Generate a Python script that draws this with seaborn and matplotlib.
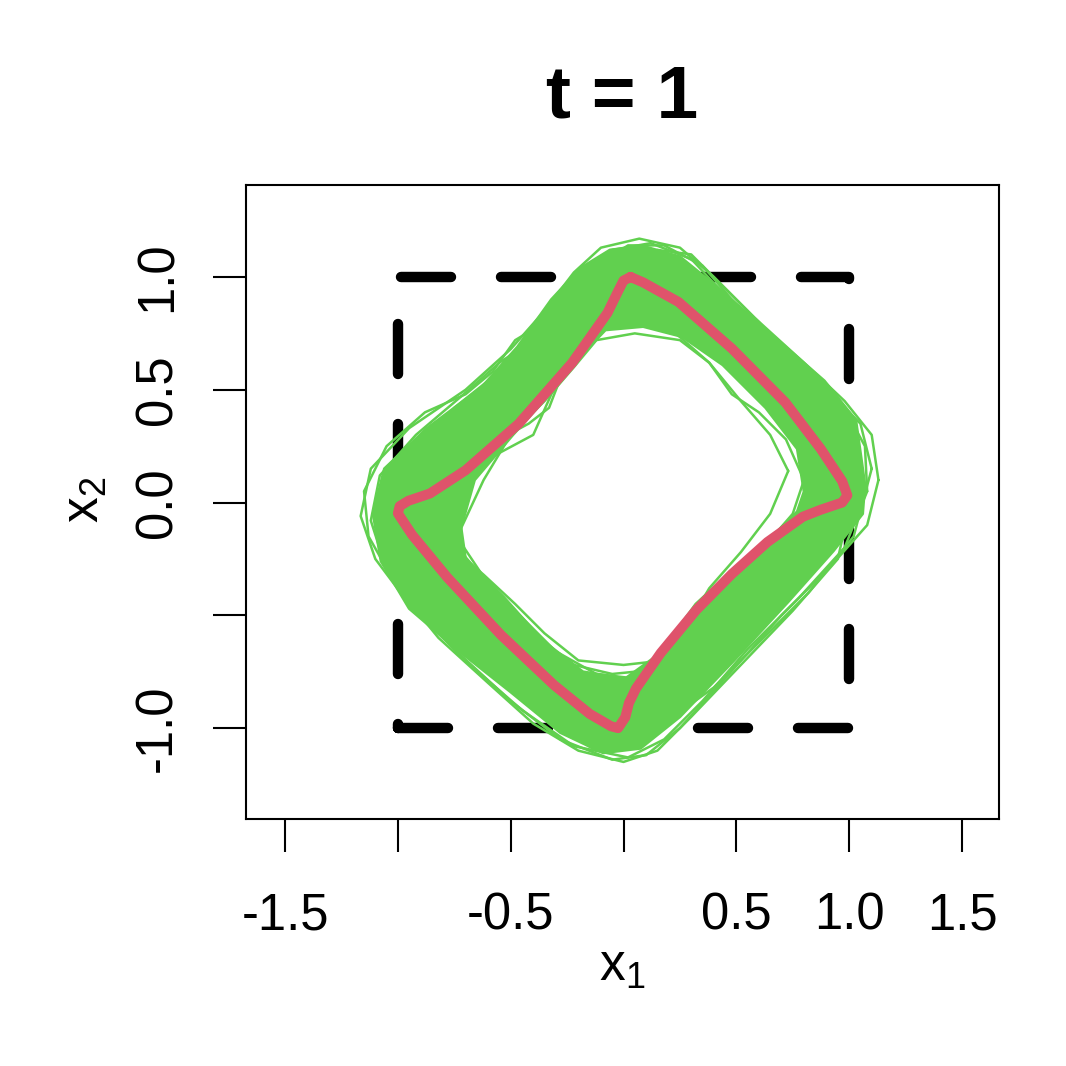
import numpy as np
import matplotlib
matplotlib.use("Agg")
import matplotlib.pyplot as plt
import seaborn as sns
from matplotlib.path import Path
from matplotlib.patches import PathPatch

# red reference curve (x, y)
red_x = [0.031, 0.087, 0.244, 0.48, 0.717, 0.874, 0.969, 0.992, 0.969, 0.874, 0.795, 0.638,
         0.48, 0.323, 0.165, 0.055, 0.024, 0.008, -0.024, -0.055, -0.15, -0.307, -0.543,
         -0.78, -0.937, -1.0, -0.992, -0.953, -0.858, -0.7, -0.465, -0.228, -0.071, -0.024,
         0.0, 0.031]
red_y = [1.0, 0.976, 0.889, 0.683, 0.444, 0.238, 0.095, 0.032, 0.0, -0.032, -0.063, -0.175,
         -0.317, -0.476, -0.667, -0.825, -0.889, -0.952, -1.0, -0.992, -0.937, -0.81, -0.587,
         -0.333, -0.143, -0.048, -0.016, 0.008, 0.04, 0.143, 0.349, 0.619, 0.841, 0.937,
         0.984, 1.0]

# dense green band: outer and inner edge
band_outer = [(1.07, 0.08), (1.03, 0.365), (0.89, 0.54), (0.65, 0.75), (0.41, 0.96),
              (0.25, 1.09), (0.087, 1.137), (-0.06, 1.12), (-0.19, 1.04), (-0.32, 0.90),
              (-0.47, 0.69), (-0.63, 0.51), (-0.87, 0.33), (-1.06, 0.15), (-1.11, -0.05),
              (-1.075, -0.26), (-0.95, -0.47), (-0.74, -0.65), (-0.50, -0.84), (-0.28, -1.02),
              (-0.09, -1.11), (0.075, -1.09), (0.25, -0.95), (0.49, -0.70), (0.73, -0.44),
              (0.93, -0.215), (1.06, -0.05)]
band_inner = [(0.80, 0.048), (0.77, 0.238), (0.63, 0.42), (0.44, 0.61), (0.26, 0.735),
              (0.087, 0.78), (-0.08, 0.765), (-0.17, 0.67), (-0.30, 0.51), (-0.49, 0.30),
              (-0.66, 0.10), (-0.72, -0.11), (-0.70, -0.25), (-0.53, -0.42), (-0.36, -0.61),
              (-0.18, -0.75), (0.008, -0.78), (0.16, -0.67), (0.32, -0.45), (0.51, -0.275),
              (0.68, -0.13), (0.77, -0.04)]

# individual green sample curves
curve_a = [(1.13, 0.10), (1.10, 0.30), (0.98, 0.45), (0.80, 0.62), (0.58, 0.82), (0.40, 1.00),
           (0.25, 1.13), (0.07, 1.17), (-0.10, 1.13), (-0.22, 1.02), (-0.35, 0.85), (-0.50, 0.68),
           (-0.70, 0.50), (-0.95, 0.33), (-1.12, 0.15), (-1.165, -0.06), (-1.10, -0.25),
           (-0.95, -0.45), (-0.75, -0.65), (-0.50, -0.88), (-0.28, -1.05), (-0.05, -1.14),
           (0.10, -1.12), (0.25, -1.00), (0.45, -0.78), (0.70, -0.50), (0.92, -0.28),
           (1.08, -0.10), (1.13, 0.10)]
curve_b = [(1.08, 0.05), (1.07, 0.25), (1.00, 0.38), (0.85, 0.52), (0.65, 0.72), (0.45, 0.92),
           (0.30, 1.08), (0.12, 1.15), (-0.05, 1.12), (-0.18, 1.00), (-0.30, 0.85), (-0.40, 0.72),
           (-0.55, 0.62), (-0.72, 0.47), (-0.92, 0.30), (-1.08, 0.12), (-1.12, -0.08),
           (-1.05, -0.30), (-0.88, -0.52), (-0.68, -0.72), (-0.45, -0.92), (-0.22, -1.08),
           (0.02, -1.13), (0.18, -1.05), (0.35, -0.88), (0.55, -0.65), (0.78, -0.42),
           (0.98, -0.20), (1.08, 0.05)]
curve_c = [(0.73, 0.14), (0.65, 0.30), (0.52, 0.45), (0.38, 0.62), (0.25, 0.72), (0.05, 0.75),
           (-0.12, 0.72), (-0.22, 0.60), (-0.35, 0.45), (-0.50, 0.30), (-0.62, 0.10),
           (-0.76, -0.20), (-0.62, -0.32), (-0.48, -0.45), (-0.35, -0.58), (-0.20, -0.70),
           (0.00, -0.72), (0.18, -0.70), (0.28, -0.55), (0.38, -0.38), (0.52, -0.22),
           (0.65, -0.05), (0.73, 0.14)]
curve_d = [(0.80, 0.10), (0.72, 0.28), (0.60, 0.40), (0.48, 0.48), (0.38, 0.62), (0.22, 0.76),
           (0.05, 0.80), (-0.10, 0.78), (-0.18, 0.68), (-0.30, 0.55), (-0.42, 0.42), (-0.55, 0.32),
           (-0.68, 0.20), (-0.75, 0.00), (-0.78, -0.15), (-0.65, -0.30), (-0.52, -0.45),
           (-0.38, -0.60), (-0.22, -0.72), (-0.05, -0.76), (0.15, -0.74), (0.25, -0.62),
           (0.35, -0.45), (0.50, -0.30), (0.62, -0.20), (0.75, -0.05), (0.80, 0.10)]
curve_e = [(1.02, 0.02), (0.98, 0.20), (0.90, 0.32), (0.75, 0.48), (0.55, 0.68), (0.40, 0.82),
           (0.28, 0.96), (0.10, 1.05), (-0.05, 1.02), (-0.15, 0.92), (-0.28, 0.75), (-0.45, 0.55),
           (-0.60, 0.42), (-0.80, 0.28), (-0.98, 0.12), (-1.05, -0.05), (-1.00, -0.22),
           (-0.88, -0.38), (-0.78, -0.50), (-0.62, -0.62), (-0.45, -0.78), (-0.25, -0.95),
           (-0.05, -1.02), (0.08, -0.98), (0.20, -0.85), (0.32, -0.70), (0.48, -0.55),
           (0.70, -0.35), (0.90, -0.15), (1.02, 0.02)]
curve_f = [(1.10, 0.15), (1.05, 0.35), (0.92, 0.48), (0.75, 0.62), (0.60, 0.80), (0.45, 0.95),
           (0.30, 1.10), (0.15, 1.12), (0.00, 1.08), (-0.15, 0.95), (-0.25, 0.80), (-0.38, 0.68),
           (-0.55, 0.58), (-0.75, 0.42), (-0.90, 0.25), (-1.00, 0.05), (-1.05, -0.15),
           (-0.98, -0.35), (-0.85, -0.55), (-0.65, -0.70), (-0.48, -0.85), (-0.32, -0.98),
           (-0.12, -1.10), (0.05, -1.08), (0.22, -0.95), (0.40, -0.82), (0.60, -0.62),
           (0.82, -0.40), (1.02, -0.15), (1.10, 0.15)]
curve_g = [(0.85, 0.10), (0.80, 0.25), (0.70, 0.38), (0.55, 0.52), (0.45, 0.62), (0.30, 0.75),
           (0.15, 0.85), (0.00, 0.88), (-0.12, 0.82), (-0.22, 0.65), (-0.32, 0.48), (-0.40, 0.30),
           (-0.55, 0.22), (-0.70, 0.12), (-0.85, -0.05), (-0.82, -0.25), (-0.70, -0.40),
           (-0.55, -0.52), (-0.38, -0.65), (-0.20, -0.78), (0.00, -0.82), (0.15, -0.80),
           (0.25, -0.68), (0.38, -0.50), (0.55, -0.35), (0.72, -0.20), (0.85, 0.10)]
curve_h = [(1.05, 0.20), (0.98, 0.40), (0.82, 0.55), (0.62, 0.75), (0.48, 0.90), (0.35, 1.05),
           (0.18, 1.14), (0.02, 1.14), (-0.12, 1.05), (-0.25, 0.90), (-0.38, 0.78), (-0.48, 0.72),
           (-0.58, 0.58), (-0.70, 0.48), (-0.88, 0.40), (-1.05, 0.25), (-1.15, 0.05),
           (-1.13, -0.15), (-1.00, -0.38), (-0.82, -0.60), (-0.60, -0.80), (-0.40, -0.98),
           (-0.20, -1.10), (0.00, -1.15), (0.15, -1.10), (0.30, -0.95), (0.52, -0.72),
           (0.75, -0.48), (0.95, -0.25), (1.05, 0.20)]
curve_i = [(0.90, 0.05), (0.85, 0.22), (0.75, 0.35), (0.62, 0.48), (0.50, 0.60), (0.35, 0.72),
           (0.20, 0.82), (0.05, 0.84), (-0.08, 0.80), (-0.18, 0.70), (-0.28, 0.55), (-0.33, 0.42),
           (-0.42, 0.35), (-0.55, 0.28), (-0.65, 0.15), (-0.72, -0.02), (-0.72, -0.18),
           (-0.62, -0.33), (-0.48, -0.48), (-0.30, -0.66), (-0.12, -0.76), (0.05, -0.78),
           (0.20, -0.74), (0.30, -0.60), (0.40, -0.48), (0.55, -0.40), (0.68, -0.28),
           (0.82, -0.12), (0.90, 0.05)]
green_curves = [curve_a, curve_b, curve_c, curve_d, curve_e, curve_f, curve_g, curve_h, curve_i]

# dashed reference square
square_x = [-1, 1, 1, -1, -1]
square_y = [-1, -1, 1, 1, -1]

x_ticks = [-1.5, -1.0, -0.5, 0.0, 0.5, 1.0, 1.5]
x_labels = ["-1.5", "", "-0.5", "", "0.5", "1.0", "1.5"]
y_ticks = [-1.0, -0.5, 0.0, 0.5, 1.0]
y_labels = ["-1.0", "", "0.0", "0.5", "1.0"]

green = "#61D04F"
red = "#DF536B"

sns.set_style("ticks")
plt.rcParams["font.family"] = ["Liberation Sans", "DejaVu Sans"]
plt.rcParams["mathtext.fontset"] = "custom"
plt.rcParams["mathtext.rm"] = "Liberation Sans"
plt.rcParams["mathtext.it"] = "Liberation Sans"
for k in ["text.color", "axes.labelcolor", "xtick.color", "ytick.color", "axes.edgecolor"]:
    plt.rcParams[k] = "black"

fig = plt.figure(figsize=(10.66, 10.66), dpi=100)
ax = fig.add_axes([0.2308, 0.2317, 0.9371 - 0.2308, 0.8265 - 0.2317])

# dashed square
sns.lineplot(x=square_x, y=square_y, sort=False, estimator=None, color="black",
             lw=7.5, ax=ax, zorder=1)
ax.lines[-1].set_dashes((4.8, 4.8))
ax.lines[-1].set_dash_capstyle("round")

# dense band
verts = band_outer + [band_outer[0]] + band_inner[::-1] + [band_inner[-1]]
codes = ([Path.MOVETO] + [Path.LINETO] * (len(band_outer) - 1) + [Path.CLOSEPOLY]
         + [Path.MOVETO] + [Path.LINETO] * (len(band_inner) - 1) + [Path.CLOSEPOLY])
ax.add_patch(PathPatch(Path(verts, codes), facecolor=green, edgecolor=green, lw=2,
                       joinstyle="round", zorder=2))

for c in green_curves:
    cx = [p[0] for p in c]
    cy = [p[1] for p in c]
    sns.lineplot(x=cx, y=cy, sort=False, estimator=None, color=green, lw=1.8, ax=ax,
                 zorder=3, solid_joinstyle="round")

sns.lineplot(x=red_x, y=red_y, sort=False, estimator=None, color=red, lw=7.2, ax=ax, zorder=4,
             solid_joinstyle="round", solid_capstyle="round")

ax.set_xlim(-1.673, 1.664)
ax.set_ylim(-1.403, 1.408)
ax.set_xticks(x_ticks)
ax.set_xticklabels(x_labels)
ax.set_yticks(y_ticks)
ax.set_yticklabels(y_labels, rotation=90, va="center")
ax.tick_params(axis="both", direction="out", length=24, width=1.5, labelsize=36.5,
               bottom=True, left=True, top=False, right=False)
ax.tick_params(axis="x", pad=28)
ax.tick_params(axis="y", pad=22)
for s in ax.spines.values():
    s.set_visible(True)
    s.set_linewidth(1.5)

fig.text(0.584, 1 - 967 / 1066, r"$\mathrm{x}_1$", fontsize=37, ha="center", va="center")
fig.text(85 / 1066, 1 - 500 / 1066, r"$\mathrm{x}_2$", fontsize=37, ha="center", va="center",
         rotation=90)
fig.text(0.584, 1 - 98 / 1066, "t = 1", fontsize=54, fontweight="bold", ha="center", va="center")

fig.savefig("out.png", dpi=100, facecolor="white")
